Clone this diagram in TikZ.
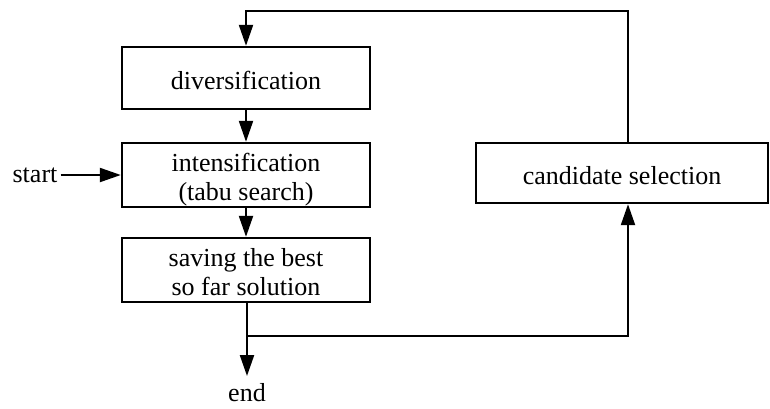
\documentclass[tikz,border=0pt]{standalone}
\usepackage{fontspec}
\setmainfont{Liberation Serif}
\usetikzlibrary{arrows.meta}
\newcommand{\lowerby}[2]{\raisebox{-#1}[\height][\depth]{#2}}
\newcommand{\twolines}[3]{\lowerby{#1}{\begin{tabular}{@{}c@{}}#2\\[-1pt]#3\end{tabular}}}
\begin{document}
\begin{tikzpicture}[x=1pt,y=-1pt,
  box/.style={draw,line width=2.4pt,inner sep=0pt,align=center,font=\fontsize{26}{30}\selectfont},
  lbl/.style={inner sep=3pt,font=\fontsize{26}{30}\selectfont},
  conn/.style={line width=2.2pt},
  arr/.style={conn,-{Triangle[length=21pt,width=14pt]}}]
\useasboundingbox (0,0) rectangle (770,408);
\node[box,minimum width=248pt,minimum height=62pt] (div) at (246,78) {\lowerby{2pt}{diversification}};
\node[box,minimum width=248pt,minimum height=64pt] (int) at (246,175) {\twolines{5pt}{intensification}{(tabu search)}};
\node[box,minimum width=248pt,minimum height=64pt] (save) at (246,270) {\twolines{5pt}{saving the best}{so far solution}};
\node[box,minimum width=292pt,minimum height=60pt] (cand) at (622,173) {\lowerby{3pt}{candidate selection}};
\node[lbl] (startn) at (35,175) {start};
\node[lbl] (endn) at (247,393) {end};
\coordinate (tip) at (247,376);
\coordinate (j) at (247,336);
\coordinate (top) at (628,11);
\draw[arr] (div) -- (int);
\draw[arr] (int) -- (save);
\draw[arr] (startn.east) -- (startn.east -| int.west);
\draw[arr] ([xshift=1pt]save.south) -- (tip);
\draw[arr] (j) -| ([xshift=6pt]cand.south);
\draw[arr] ([xshift=6pt]cand.north) -- (top) -| (div.north);
\end{tikzpicture}
\end{document}
